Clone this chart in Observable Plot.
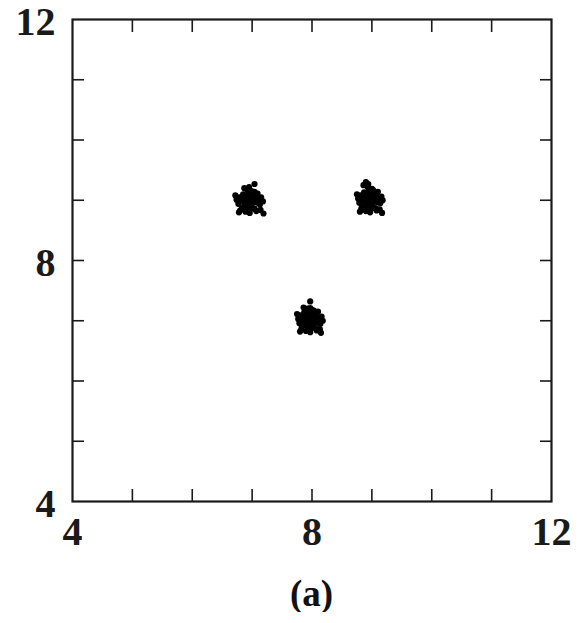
<!DOCTYPE html>
<html>
<head>
<meta charset="utf-8">
<script src="https://cdn.jsdelivr.net/npm/d3@7"></script>
<script src="https://cdn.jsdelivr.net/npm/@observablehq/plot@0.6"></script>
<style>
  html, body { margin: 0; padding: 0; background: #fff; }
  #chart { width: 579px; height: 574px; }
  .cap {
    font-family: "Liberation Serif", "DejaVu Serif", serif;
    font-weight: 700;
    font-size: 37px;
    color: #111;
    width: 579px;
    box-sizing: border-box;
    padding-left: 44px;
    text-align: center;
    margin-top: 1px;
    line-height: 1;
  }
</style>
</head>
<body>
<div id="chart"></div>
<div class="cap">(a)</div>
<script>
// Axis domain and ticks
const domain = [4, 12];
const labelTicks = [4, 8, 12];
const minorTicks = [5, 6, 7, 8, 9, 10, 11];

// Cluster A, near (7, 9)
const clusterAx = [6.94, 6.89, 6.98, 6.92, 7.00, 6.87, 6.95, 7.03, 6.84, 6.93, 6.99, 7.05, 6.88, 6.90, 7.08, 6.82, 6.97, 7.02, 6.85, 7.10, 6.79, 6.94, 7.04, 6.83, 7.13, 6.77, 6.99, 6.89, 7.09, 6.80, 7.15, 6.74, 6.96, 7.07, 6.92, 7.18, 6.72, 6.87, 7.14, 6.78, 7.04, 6.95, 7.04, 7.19];
const clusterAy = [8.97, 8.99, 9.02, 8.92, 8.95, 8.96, 9.07, 8.99, 9.03, 8.88, 8.89, 9.04, 8.90, 9.08, 8.96, 8.98, 8.85, 9.09, 9.10, 9.02, 9.05, 9.12, 8.86, 8.87, 8.93, 8.94, 9.15, 8.81, 9.11, 8.83, 9.05, 9.01, 8.79, 8.82, 9.17, 8.98, 9.08, 9.20, 8.84, 8.80, 9.14, 9.22, 9.27, 8.78];

// Cluster B, near (9, 9)
const clusterBx = [8.96, 8.92, 9.00, 8.94, 9.02, 8.89, 8.97, 9.05, 8.86, 8.93, 9.01, 9.07, 8.88, 8.91, 9.09, 8.84, 8.99, 9.03, 8.87, 9.11, 8.81, 8.95, 9.06, 8.83, 9.14, 8.79, 9.00, 8.90, 9.10, 8.82, 9.16, 8.77, 8.97, 9.08, 8.93, 9.18, 8.75, 8.86, 9.13, 8.80, 9.02, 8.94, 8.90, 9.17];
const clusterBy = [8.99, 9.02, 9.04, 8.94, 8.97, 8.98, 9.09, 9.01, 9.05, 8.90, 8.91, 9.07, 8.92, 9.11, 8.97, 9.00, 8.86, 9.12, 9.13, 9.04, 9.08, 9.16, 8.87, 8.88, 8.95, 8.96, 9.19, 8.82, 9.14, 8.84, 9.06, 9.03, 8.80, 8.83, 9.22, 9.00, 9.10, 9.25, 8.85, 8.81, 9.17, 9.27, 9.30, 8.79];

// Cluster C, near (8, 7)
const clusterCx = [7.96, 7.92, 8.00, 7.94, 8.02, 7.89, 7.97, 8.05, 7.86, 7.93, 8.01, 8.07, 7.88, 7.91, 8.09, 7.84, 7.99, 8.03, 7.87, 8.11, 7.81, 7.95, 8.06, 7.83, 8.14, 7.79, 8.00, 7.90, 8.10, 7.82, 8.16, 7.77, 7.97, 8.08, 7.93, 8.18, 7.75, 7.86, 8.13, 7.80, 8.03, 7.97, 7.97, 8.15];
const clusterCy = [7.00, 7.03, 7.05, 6.95, 6.97, 6.99, 7.10, 7.02, 7.06, 6.91, 6.92, 7.08, 6.93, 7.12, 6.97, 7.01, 6.87, 7.13, 7.14, 7.05, 7.09, 7.16, 6.88, 6.89, 6.95, 6.96, 7.18, 6.83, 7.15, 6.85, 7.07, 7.03, 6.81, 6.84, 7.20, 7.00, 7.11, 7.22, 6.86, 6.82, 7.17, 7.21, 7.32, 6.80];

const points = [
  ...clusterAx.map((x, i) => ({x, y: clusterAy[i]})),
  ...clusterBx.map((x, i) => ({x, y: clusterBy[i]})),
  ...clusterCx.map((x, i) => ({x, y: clusterCy[i]}))
];

const font = '"Liberation Serif", "DejaVu Serif", serif';
const ink = "#1a1a1a";

const chart = Plot.plot({
  width: 579,
  height: 574,
  marginLeft: 72,
  marginRight: 28,
  marginTop: 19,
  marginBottom: 73,
  style: {fontFamily: font, background: "#fff", color: ink},
  x: {domain, label: null},
  y: {domain, label: null},
  marks: [
    Plot.dot(points, {x: "x", y: "y", r: 3.1, fill: "#000", stroke: "none"}),
    // inward minor ticks on all four sides
    Plot.axisX(minorTicks, {anchor: "bottom", tickSize: -12, strokeWidth: 1.6, tickFormat: () => "", stroke: ink}),
    Plot.axisX(minorTicks, {anchor: "top", tickSize: -12, strokeWidth: 1.6, tickFormat: () => "", stroke: ink}),
    Plot.axisY(minorTicks, {anchor: "left", tickSize: -12, strokeWidth: 1.6, tickFormat: () => "", stroke: ink}),
    Plot.axisY(minorTicks, {anchor: "right", tickSize: -12, strokeWidth: 1.6, tickFormat: () => "", stroke: ink}),
    // labelled ticks
    Plot.axisX(labelTicks, {anchor: "bottom", tickSize: 0, tickPadding: 15, tickFormat: d3.format("d"), fontSize: 40, fontWeight: 700, fill: ink}),
    Plot.axisY(labelTicks, {anchor: "left", tickSize: 0, tickPadding: 17, dy: 3, tickFormat: d3.format("d"), fontSize: 40, fontWeight: 700, fill: ink}),
    Plot.frame({stroke: ink, strokeWidth: 2.2})
  ]
});

document.getElementById("chart").append(chart);
</script>
</body>
</html>
